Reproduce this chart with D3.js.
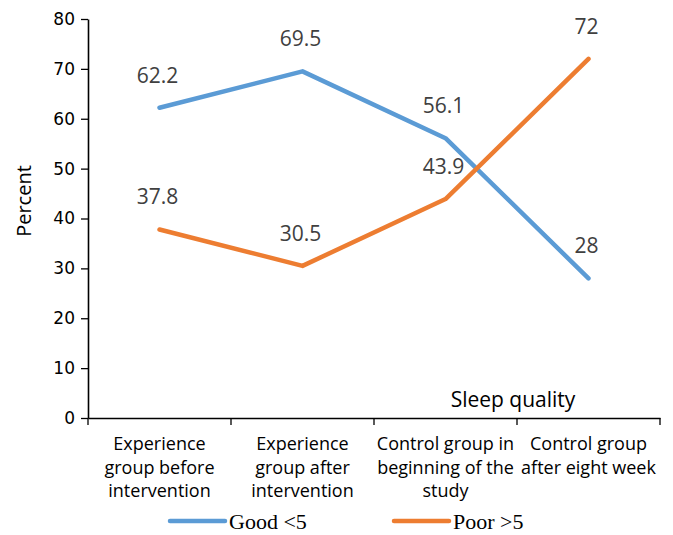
<!DOCTYPE html>
<html><head><meta charset="utf-8">
<script src="https://cdn.jsdelivr.net/npm/d3@7"></script>
<style>body{margin:0;background:#fff}svg{display:block}</style>
</head><body>
<svg id="c" width="673" height="535"></svg>
<script>
const categories = ["Experience group before intervention","Experience group after intervention","Control group in beginning of the study","Control group after eight week"];
const categoryLines = [["Experience","group before","intervention"],["Experience","group after","intervention"],["Control group in","beginning of the","study"],["Control group","after eight week"]];
const goodValues = [62.2, 69.5, 56.1, 28];
const poorValues = [37.8, 30.5, 43.9, 72];
const seriesNames = ["Good <5", "Poor >5"];
const yTicks = [0,10,20,30,40,50,60,70,80];
const colors = ["#5B9BD5", "#ED7D31"];

const svg = d3.select("#c");
const x = d3.scaleBand().domain(categories).range([88, 660]);
const y = d3.scaleLinear().domain([0, 80]).range([418, 19]);

// y axis
const ya = svg.append("g").attr("transform","translate(88,0)")
  .call(d3.axisLeft(y).tickValues(yTicks).tickSize(7).tickSizeOuter(0).tickPadding(6));
ya.select(".domain").attr("stroke","#000").attr("stroke-width",1.6);
ya.selectAll(".tick line").attr("stroke","#000").attr("stroke-width",1.3);
ya.selectAll(".tick text").attr("font-family","DejaVu Sans").attr("font-size",17).attr("fill","#000");

// x axis
const xa = svg.append("g").attr("transform","translate(0,418)")
  .call(d3.axisBottom(x).tickSize(0).tickFormat(""));
xa.select(".domain").attr("stroke","#000").attr("stroke-width",1.6);
const bounds = categories.map(c => x(c)).concat([x(categories[categories.length-1]) + x.bandwidth()]);
xa.selectAll(".bt").data(bounds).join("line").attr("class","bt")
  .attr("x1", d=>d).attr("x2", d=>d).attr("y1",0).attr("y2",7)
  .attr("stroke","#000").attr("stroke-width",1.3);

// category labels
categories.forEach((c,i) => {
  const t = svg.append("text").attr("text-anchor","middle")
    .attr("font-family","Open Sans").attr("font-size",18).attr("fill","#000");
  categoryLines[i].forEach((ln,j) => {
    t.append("tspan").attr("x", x(c) + x.bandwidth()/2).attr("y", 450 + j*23.5).text(ln);
  });
});

// axis titles
svg.append("text").attr("transform","translate(31,201) rotate(-90)").attr("text-anchor","middle")
  .attr("font-family","Open Sans").attr("font-size",20).attr("fill","#000").text("Percent");
svg.append("text").attr("x",513).attr("y",407).attr("text-anchor","middle")
  .attr("font-family","Open Sans").attr("font-size",21).attr("fill","#000").text("Sleep quality");

// lines
const line = d3.line().x((d,i)=>x(categories[i]) + x.bandwidth()/2).y(d=>y(d));
[goodValues, poorValues].forEach((vals, s) => {
  svg.append("path").datum(vals).attr("d", line).attr("fill","none")
    .attr("stroke", colors[s]).attr("stroke-width",4.5).attr("stroke-linejoin","round").attr("stroke-linecap","round");
  svg.selectAll(null).data(vals).join("text")
    .attr("x",(d,i)=>x(categories[i]) + x.bandwidth()/2 - 2)
    .attr("y",d=>y(d) - 25)
    .attr("text-anchor","middle").attr("font-family","Open Sans").attr("font-size",21).attr("fill","#404040")
    .text(d=>d);
});

// legend
const legX = [170, 394];
seriesNames.forEach((n,s) => {
  svg.append("line").attr("x1",legX[s]).attr("x2",legX[s]+55).attr("y1",521).attr("y2",521)
    .attr("stroke",colors[s]).attr("stroke-width",4.5).attr("stroke-linecap","round");
  svg.append("text").attr("x",legX[s]+59).attr("y",529).attr("font-family","Liberation Serif")
    .attr("font-size",22).attr("fill","#000").text(n);
});
</script>
</body></html>
